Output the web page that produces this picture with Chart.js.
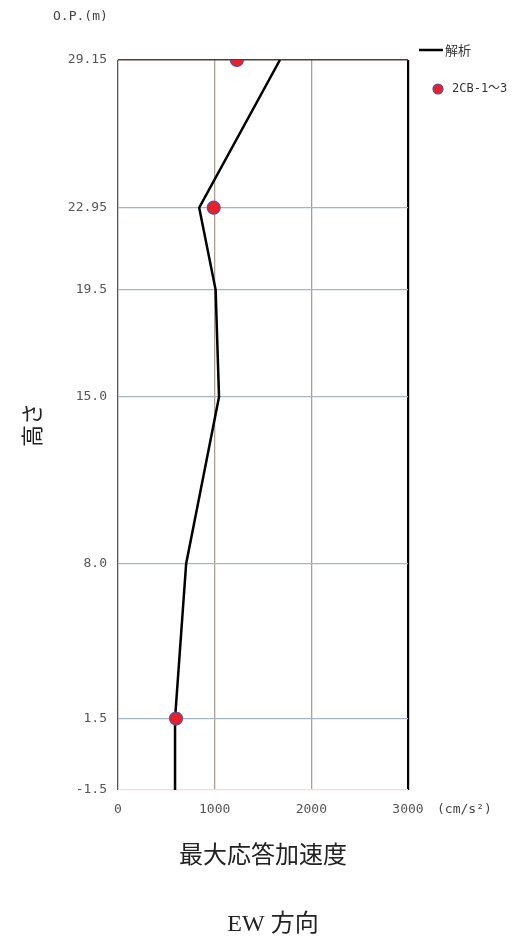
<!DOCTYPE html>
<html>
<head>
<meta charset="utf-8">
<script src="https://cdn.jsdelivr.net/npm/chart.js@4"></script>
<style>
  html, body { margin: 0; padding: 0; background: #fff; }
  #wrap { width: 529px; height: 952px; }
</style>
</head>
<body>
<div id="wrap"><canvas id="chart" width="529" height="952"></canvas></div>
<script>
// heights (O.P. m) and peak response acceleration (cm/s2)
const heights = [29.15, 22.95, 19.5, 15.0, 8.0, 1.5, -1.5];
const analysisAccel = [1675, 840, 1010, 1045, 705, 590, 590];

const obsHeights = [29.15, 22.95, 1.5];
const obsAccel = [1230, 990, 600];

const yTickValues = [-1.5, 1.5, 8.0, 15.0, 19.5, 22.95, 29.15];
const yTickLabels = ['-1.5', '1.5', '8.0', '15.0', '19.5', '22.95', '29.15'];
const xTickValues = [0, 1000, 2000, 3000];

const tickFont = { family: '"DejaVu Sans Mono", "Noto Sans CJK JP"', size: 13 };

// extra texts + legend
const decorations = {
    id: 'decorations',
    afterDraw(chart) {
        const ctx = chart.ctx;
        ctx.save();
        ctx.fillStyle = '#444';
        ctx.font = '13px "DejaVu Sans Mono", "Noto Sans CJK JP"';
        ctx.textBaseline = 'middle';
        ctx.textAlign = 'left';
        ctx.fillText('O.P.(m)', 53, 17);
        ctx.fillText('(cm/s²)', 437, 810);

        // legend
        ctx.strokeStyle = '#000';
        ctx.lineWidth = 2.5;
        ctx.beginPath();
        ctx.moveTo(419, 50);
        ctx.lineTo(443, 50);
        ctx.stroke();
        ctx.fillStyle = '#333';
        ctx.font = '13px "Noto Sans CJK JP"';
        ctx.fillText('解析', 445, 50);
        ctx.beginPath();
        ctx.arc(438, 89, 5, 0, Math.PI * 2);
        ctx.fillStyle = '#e8202a';
        ctx.fill();
        ctx.lineWidth = 1.2;
        ctx.strokeStyle = '#5a4fa0';
        ctx.stroke();
        ctx.fillStyle = '#333';
        ctx.font = '12px "DejaVu Sans Mono", "Noto Sans CJK JP"';
        ctx.fillText('2CB-1〜3', 452, 89);

        ctx.textAlign = 'center';
        ctx.fillStyle = '#222';
        ctx.font = '24px "Liberation Serif", "Noto Sans CJK JP"';
        ctx.fillText('EW 方向', 273, 925);
        ctx.restore();
    }
};

new Chart(document.getElementById('chart').getContext('2d'), {
    type: 'scatter',
    data: {
        datasets: [{
            label: '解析',
            data: heights.map((h, i) => ({ x: analysisAccel[i], y: h })),
            showLine: true,
            borderColor: '#000',
            borderWidth: 2.5,
            pointRadius: 0,
            tension: 0,
            order: 2
        }, {
            label: '2CB-1〜3',
            data: obsHeights.map((h, i) => ({ x: obsAccel[i], y: h })),
            backgroundColor: '#e8202a',
            borderColor: '#5a4fa0',
            borderWidth: 1.2,
            pointRadius: 6.5,
            order: 1
        }]
    },
    options: {
        responsive: false,
        animation: false,
        layout: { padding: { top: 60, right: 121, left: 0, bottom: 0 } },
        plugins: {
            legend: { display: false },
            tooltip: { enabled: false }
        },
        scales: {
            x: {
                type: 'linear',
                min: 0,
                max: 3000,
                afterBuildTicks: scale => { scale.ticks = xTickValues.map(v => ({ value: v })); },
                afterFit: scale => { scale.height = 162; },
                border: { display: false },
                grid: {
                    drawTicks: false,
                    color: ctx => ctx.tick.value === 0 ? '#555' : (ctx.tick.value === 3000 ? '#000' : '#aa9d95'),
                    lineWidth: ctx => ctx.tick.value === 3000 ? 2.2 : 1.3
                },
                ticks: { color: '#555', font: tickFont, padding: 12, callback: v => String(v) },
                title: {
                    display: true,
                    text: '最大応答加速度',
                    color: '#222',
                    font: { family: '"Noto Sans CJK JP"', size: 24 },
                    padding: { top: 0, bottom: 84 }
                }
            },
            y: {
                type: 'linear',
                min: -1.5,
                max: 29.15,
                afterBuildTicks: scale => { scale.ticks = yTickValues.map(v => ({ value: v })); },
                afterFit: scale => { scale.width = 118; },
                border: { display: false },
                grid: {
                    drawTicks: false,
                    color: ctx => ctx.tick.value === 29.15 ? '#5a3a35' : (ctx.tick.value === -1.5 ? '#f2dcd4' : '#a3b6c2'),
                    lineWidth: ctx => ctx.tick.value === 29.15 ? 1.6 : 1.3
                },
                ticks: {
                    color: '#555',
                    font: tickFont,
                    padding: 11,
                    callback: (v) => {
                        const i = yTickValues.indexOf(v);
                        return i >= 0 ? yTickLabels[i] : '';
                    }
                },
                title: {
                    display: true,
                    text: '高さ',
                    color: '#222',
                    font: { family: '"Noto Sans CJK JP"', size: 22 },
                    padding: { top: 18, bottom: 0 }
                }
            }
        }
    },
    plugins: [decorations]
});
</script>
</body>
</html>
